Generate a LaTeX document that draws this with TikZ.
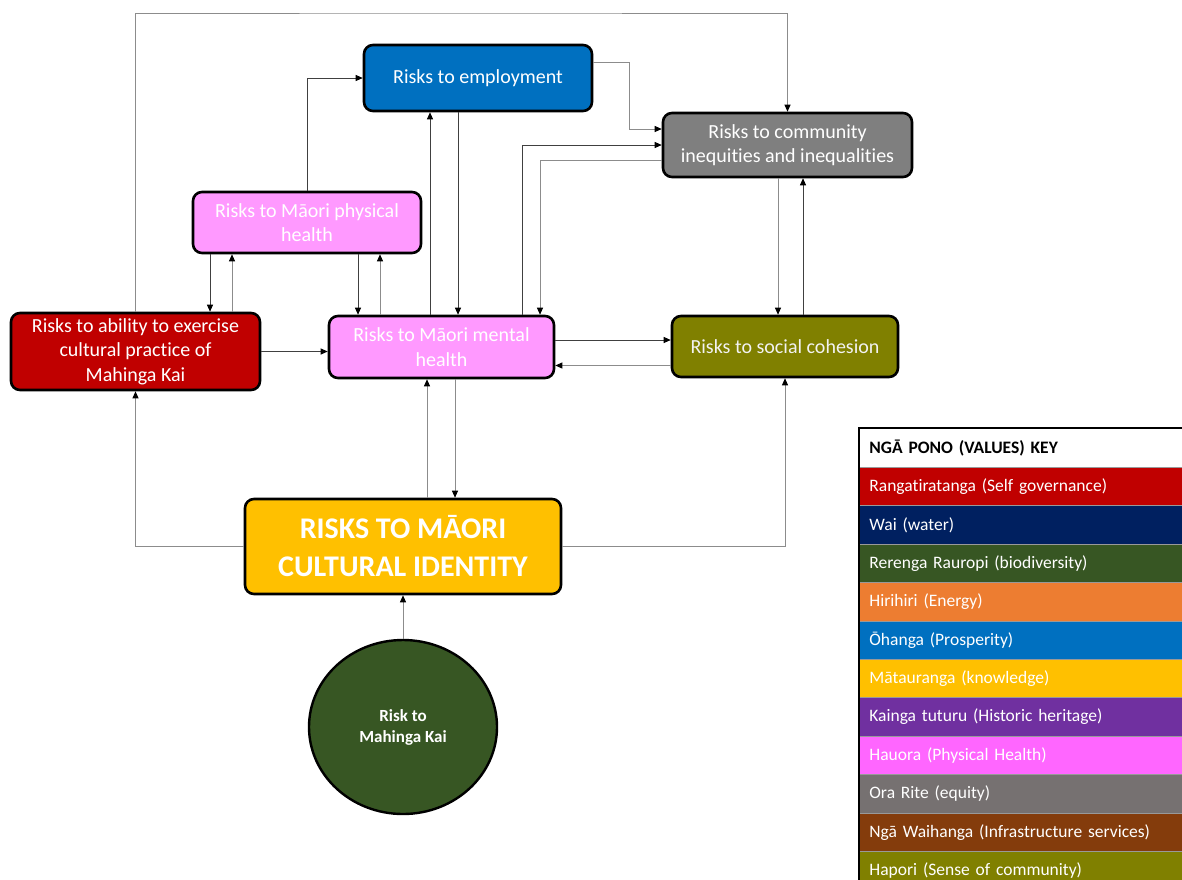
\documentclass[tikz,border=0pt]{standalone}
\usepackage{fontspec}
\setmainfont{Carlito}[Ligatures=CommonOff]
\definecolor{redPractice}{HTML}{C00000}
\definecolor{blueWai}{HTML}{002060}
\definecolor{greenBio}{HTML}{375623}
\definecolor{orangeEnergy}{HTML}{ED7D31}
\definecolor{blueProsper}{HTML}{0070C0}
\definecolor{goldKnow}{HTML}{FFC000}
\definecolor{purpleHeritage}{HTML}{7030A0}
\definecolor{pinkHauora}{HTML}{FF66FF}
\definecolor{pinkHealth}{HTML}{FF99FF}
\definecolor{greyEquity}{HTML}{7F7F7F}
\definecolor{greyOraRite}{HTML}{767171}
\definecolor{brownInfra}{HTML}{843C0C}
\definecolor{oliveHapori}{HTML}{808000}
\definecolor{textSoft}{HTML}{F2F2F2}
\usetikzlibrary{calc, shapes.geometric, arrows.meta}

\tikzset{
  riskbox/.style={draw=black, line width=2.6pt, rounded corners=9pt, text=white,
                  align=center, inner sep=3pt, font=\fontsize{20}{24.5}\selectfont},
  link/.style={draw=black!45, line width=0.9pt, -{Triangle[length=7pt,width=6pt,black]}},
  linkdark/.style={link, draw=black!75},
  keyrow/.style={anchor=north west, minimum width=330pt, minimum height=38.4pt,
                 text width=310pt, inner xsep=10pt, inner ysep=0pt, align=left,
                 draw=black!40, line width=0.8pt, text=white,
                 font=\fontsize{17.5}{20}\selectfont}
}

\begin{document}
\begin{tikzpicture}[x=1pt, y=-1pt]
  \useasboundingbox (0,0) rectangle (1182,879);
  \clip (0,0) rectangle (1182,879);
  \fill[white] (0,0) rectangle (1182,879);

  % risk boxes
  \node[riskbox, fill=blueProsper, minimum width=228pt, minimum height=66pt] (emp) at (478,78)
    {Risks to employment};
  \node[riskbox, fill=greyEquity, minimum width=249pt, minimum height=64pt] (comm) at (787.5,145)
    {Risks to community\\inequities and inequalities};
  \node[riskbox, fill=pinkHealth, minimum width=228pt, minimum height=61pt] (phys) at (307,222.5)
    {Risks to Māori physical\\health};
  \node[riskbox, fill=redPractice, minimum width=249pt, minimum height=77pt] (red) at (135.5,351.5)
    {Risks to ability to exercise\\cultural practice of\\Mahinga Kai};
  \node[riskbox, fill=pinkHealth, minimum width=225pt, minimum height=62pt] (mental) at (441.5,347)
    {Risks to Māori mental\\health};
  \node[riskbox, fill=oliveHapori, text=textSoft, minimum width=226pt, minimum height=61pt] (social) at (785,346.5)
    {Risks to social cohesion};
  \node[riskbox, fill=goldKnow, minimum width=316pt, minimum height=95pt,
        font=\bfseries\fontsize{30}{38}\selectfont] (cult) at (403,546.5)
    {RISKS TO MĀORI\\CULTURAL IDENTITY};
  \node[ellipse, draw=black, line width=2.4pt, fill=greenBio, text=white, align=center,
        minimum width=188pt, minimum height=174pt,
        font=\bfseries\fontsize{17}{21}\selectfont] (kai) at (403,727)
    {Risk to\\Mahinga Kai};

  % connectors
  \coordinate (topturn) at (460,13);
  \draw[link] (red.north) |- (topturn) -| (comm.north);
  \draw[linkdark] (phys.north) |- (emp.west);
  \draw[link] ([yshift=16]emp.east) -- ++(36,0) |- ([yshift=16]comm.west);
  \draw[linkdark] ([xshift=80.5]mental.north) |- (comm.west);
  \draw[link] ([yshift=-15]comm.west) -| ([xshift=98.5]mental.north);
  \draw[linkdark] ([xshift=-11.5]mental.north) -- ([xshift=-11.5]mental.north |- emp.south);
  \draw[linkdark] ([xshift=16.5]mental.north |- emp.south) -- ([xshift=16.5]mental.north);
  \draw[linkdark] ([xshift=-97]phys.south) -- ([xshift=-97]phys.south |- red.north);
  \draw[link] ([xshift=96.5]red.north) -- ([xshift=96.5]red.north |- phys.south);
  \draw[linkdark] ([xshift=51]phys.south) -- ([xshift=51]phys.south |- mental.north);
  \draw[link] ([xshift=-61.5]mental.north) -- ([xshift=-61.5]mental.north |- phys.south);
  \draw[link] ([xshift=-9.5]comm.south) -- ([xshift=-9.5]comm.south |- social.north);
  \draw[linkdark] ([xshift=18]social.north) -- ([xshift=18]social.north |- comm.south);
  \draw[linkdark] (red.east) -- (red.east -| mental.west);
  \draw[linkdark] ([yshift=7]mental.east) -- ([yshift=7]mental.east -| social.west);
  \draw[link] ([yshift=-19]social.west) -- ([yshift=-19]social.west -| mental.east);
  \draw[link] ([xshift=24]cult.north) -- ([xshift=24]cult.north |- mental.south);
  \draw[link] ([xshift=13.5]mental.south) -- ([xshift=13.5]mental.south |- cult.north);
  \draw[link] (cult.west) -| (red.south);
  \draw[link] (cult.east) -| (social.south);
  \draw[link] (kai.north) -- (cult.south);

  % values key
  \node[keyrow, fill=white, text=black, minimum height=39pt, font=\bfseries\fontsize{17.5}{20}\selectfont]
    (keyhead) at (859,428) {\raisebox{3pt}{NGĀ PONO (VALUES) KEY}};
  \foreach \shade/\txt [count=\i] in {
      redPractice/Rangatiratanga (Self governance),
      blueWai/Wai (water),
      greenBio/Rerenga Rauropi (biodiversity),
      orangeEnergy/Hirihiri (Energy),
      blueProsper/Ōhanga (Prosperity),
      goldKnow/Mātauranga (knowledge),
      purpleHeritage/Kainga tuturu (Historic heritage),
      pinkHauora/Hauora (Physical Health),
      greyOraRite/Ora Rite (equity),
      brownInfra/Ngā Waihanga (Infrastructure services),
      oliveHapori/Hapori (Sense of community)}
    \node[keyrow, fill=\shade] (key\i) at (859,{467+38.4*(\i-1)}) {\raisebox{2pt}{\txt}};
  \draw[line width=2.6pt] (keyhead.north west) rectangle (key11.south east);
\end{tikzpicture}
\end{document}
